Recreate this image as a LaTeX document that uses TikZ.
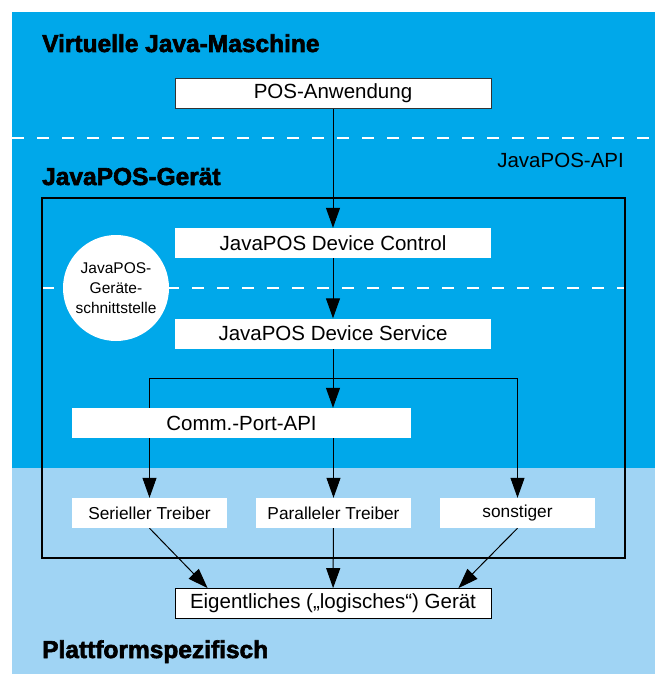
\documentclass[tikz,border=0pt]{standalone}
\usepackage{fontspec}
\setmainfont{Liberation Sans}
\newfontfamily\headfont{Liberation Sans}[BoldFeatures={FakeBold=2.5}]
\usetikzlibrary{arrows.meta}
\definecolor{vmblue}{RGB}{0,168,234}
\definecolor{platblue}{RGB}{160,212,244}
\pgfdeclarelayer{bg}
\pgfdeclarelayer{wires}
\pgfsetlayers{bg,wires,main}

\begin{document}
\begin{tikzpicture}[
    x=1pt, y=-1pt,
    font=\fontsize{20.5}{24}\selectfont,
    process/.style={rectangle,fill=white,minimum width=316pt,minimum height=30pt,inner sep=0pt},
    driver/.style={rectangle,fill=white,minimum width=155pt,minimum height=30pt,inner sep=0pt,font=\fontsize{17.3}{20}\selectfont},
    title/.style={anchor=base west,inner sep=0pt,font=\headfont\bfseries\fontsize{24.5}{28}\selectfont},
    divider/.style={white,line width=2pt,dash pattern=on 12pt off 13pt},
    arrow/.style={-{Triangle[length=20pt,width=14pt]},line width=1pt}
]
\useasboundingbox (0,0) rectangle (661,674);

\begin{pgfonlayer}{bg}
\fill[vmblue] (12,12) rectangle (655,468);
\fill[platblue] (12,468) rectangle (655,674);
\draw[divider] (12,138) -- (655,138);
\draw[divider] (42,288) -- (625,288);
\end{pgfonlayer}

\draw[line width=2pt] (42,198) rectangle (625,558);

\node[title] (vm) at (42,52) {Virtuelle Java-Maschine};
\node[title] (gear) at (42,185) {JavaPOS-Gerät};
\node[title] (plat) at (42,658) {Plattformspezifisch};
\node[anchor=base east,inner sep=0pt] (api) at (624,167) {JavaPOS-API};

\node[process,draw=black!80,line width=0.8pt] (pos) at (333,93) {POS-Anwendung};
\node[process] (ctrl) at (333,243) {JavaPOS Device Control};
\node[process] (svc) at (333,333.5) {JavaPOS Device Service};
\node[process,minimum width=339pt] (comm) at (241.5,423) {Comm.-Port-API};
\node[driver] (ser) at (149.5,513) {Serieller Treiber};
\node[driver] (par) at (333.5,513) {Paralleler Treiber};
\node[driver] (other) at (517.5,513) {sonstiger};
\node[process,draw=black,line width=0.8pt] (dev) at (333,603.5) {Eigentliches („logisches“) Gerät};
\node[circle,fill=white,minimum size=106pt,inner sep=0pt,align=center,font=\fontsize{15.5}{20}\selectfont] (iface) at (116,288) {JavaPOS-\\Geräte-\\schnittstelle};

\begin{pgfonlayer}{wires}
\coordinate (split) at (333,378);
\draw[arrow] (pos) -- (ctrl);
\draw[arrow] (ctrl) -- (svc);
\draw[arrow] (svc) -- (svc |- comm.north);
\draw[arrow] (split) -| (ser);
\draw[arrow] (split) -| (other);
\draw[arrow] (par |- comm.south) -- (par);
\draw[arrow] (ser.south) -- ([xshift=33pt]dev.north west);
\draw[arrow] (par) -- (dev);
\draw[arrow] (other.south) -- ([xshift=-33pt]dev.north east);
\end{pgfonlayer}
\end{tikzpicture}
\end{document}
